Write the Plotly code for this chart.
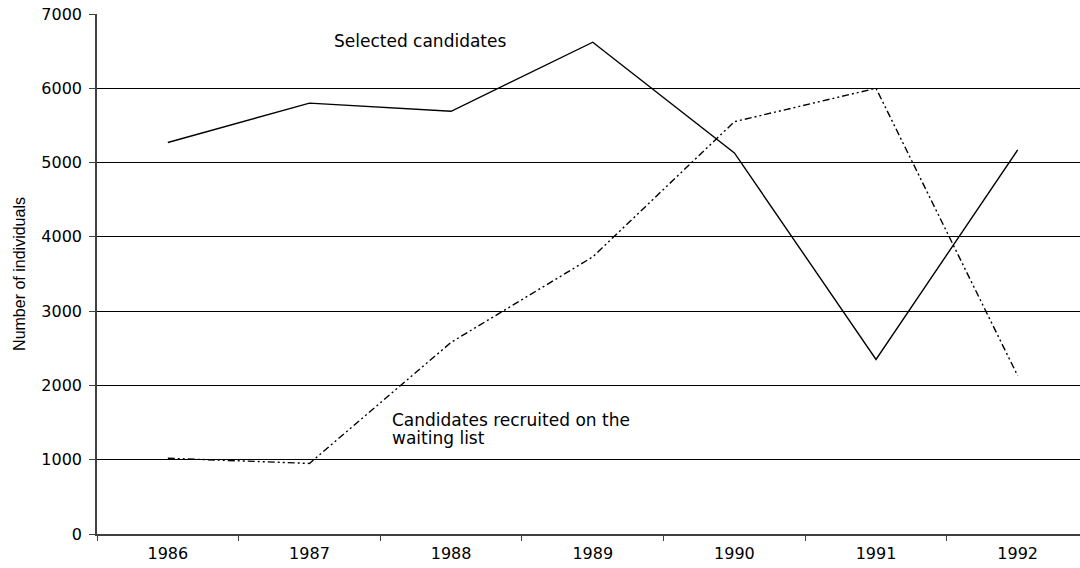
import plotly.graph_objects as go

years = ["1986", "1987", "1988", "1989", "1990", "1991", "1992"]
selected = [5270, 5800, 5690, 6620, 5130, 2350, 5170]
waiting_list = [1020, 950, 2580, 3730, 5550, 6000, 2130]
y_ticks = [0, 1000, 2000, 3000, 4000, 5000, 6000, 7000]

TICK_FONT = dict(family="DejaVu Sans", size=16, color="black")
ANN_FONT = dict(family="DejaVu Sans", size=17, color="black")

fig = go.Figure()
fig.add_trace(go.Scatter(
    x=years, y=selected, mode="lines", name="Selected candidates",
    line=dict(color="black", width=1.4),
))
fig.add_trace(go.Scatter(
    x=years, y=waiting_list, mode="lines", name="Candidates recruited on the waiting list",
    line=dict(color="black", width=1.4, dash="7px,3px,2px,3px,2px,3px"),
))

fig.add_annotation(x=1.16, y=6636, xref="x", yref="y", text="Selected candidates",
                   showarrow=False, xanchor="left", yanchor="middle", font=ANN_FONT)
fig.add_annotation(x=1.57, y=1540, xref="x", yref="y", text="Candidates recruited on the",
                   showarrow=False, xanchor="left", yanchor="middle", font=ANN_FONT)
fig.add_annotation(x=1.57, y=1295, xref="x", yref="y", text="waiting list",
                   showarrow=False, xanchor="left", yanchor="middle", font=ANN_FONT)

fig.update_layout(
    width=1080, height=568,
    margin=dict(l=97, r=0, t=14, b=34, autoexpand=False),
    paper_bgcolor="white", plot_bgcolor="white",
    showlegend=False,
)
fig.update_xaxes(
    type="category", range=[-0.5, 6.44],
    tickson="boundaries", ticks="outside", ticklen=5, tickcolor="#404040", tickwidth=1,
    showline=True, linecolor="#404040", linewidth=1.5,
    showgrid=False, zeroline=False,
    tickfont=TICK_FONT, ticklabelstandoff=4,
    automargin=False,
)
fig.update_yaxes(
    range=[0, 7000], tickmode="array", tickvals=y_ticks,
    ticktext=[str(v) for v in y_ticks],
    ticks="outside", ticklen=6, tickcolor="#404040", tickwidth=1,
    showline=True, linecolor="#404040", linewidth=1.5,
    showgrid=True, gridcolor="black", gridwidth=1, zeroline=False,
    tickfont=TICK_FONT, ticklabelstandoff=4,
    title=dict(text="Number of individuals",
               font=dict(family="Liberation Sans", size=16, color="black"),
               standoff=12),
    automargin=False,
)

fig.write_html(
    "out.html",
    config={"displayModeBar": False},
    post_script="document.body.style.margin='0';document.body.style.overflow='hidden';",
)
